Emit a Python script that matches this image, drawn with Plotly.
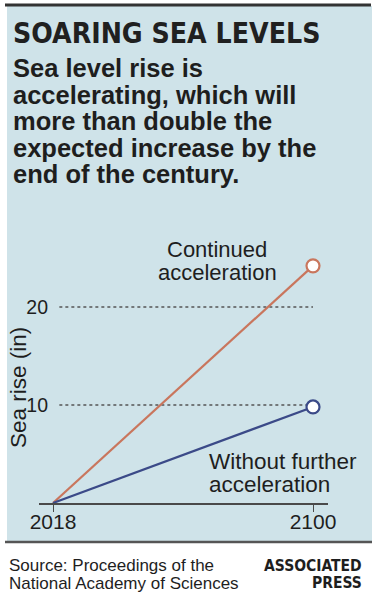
import plotly.graph_objects as go

# ---- data ----
years = [2018, 2100]
continued_accel = [0, 24.2]
no_further_accel = [0, 9.8]
y_ticks = [10, 20]
x_ticks = [2018, 2100]

title_text = "SOARING SEA LEVELS"
subtitle_lines = [
    "Sea level rise is",
    "accelerating, which will",
    "more than double the",
    "expected increase by the",
    "end of the century.",
]
label_cont = ["Continued", "acceleration"]
label_without = ["Without further", "acceleration"]
source_lines = ["Source: Proceedings of the", "National Academy of Sciences"]
credit_lines = ["ASSOCIATED", "PRESS"]
y_title = "Sea rise (in)"

# ---- layout geometry (pixels) ----
W, H = 376, 600
L, R, T, B = 39, 328, 238, 503
x_px_first, x_px_last = 53, 313
pxs_per_year = (x_px_last - x_px_first) / (years[-1] - years[0])
x_range = [years[0] - (x_px_first - L) / pxs_per_year,
           years[-1] + (R - x_px_last) / pxs_per_year]
px_per_unit = 9.8
y_range = [0, (B - T) / px_per_unit]


def px(x):
    return (x - L) / (R - L)


def py(y):
    return (B - y) / (B - T)


RED = "#c9765d"
BLUE = "#3b4a88"
PANEL = "#cfe3e9"
TXT = "#1e1e1e"
FONT = "Liberation Sans, Arial, sans-serif"
COND = "DejaVu Sans Condensed, DejaVu Sans, sans-serif"

fig = go.Figure()

for vals, col in [(continued_accel, RED), (no_further_accel, BLUE)]:
    fig.add_trace(go.Scatter(x=years, y=vals, mode="lines",
                             line=dict(color=col, width=2.2),
                             hoverinfo="skip", showlegend=False, cliponaxis=False))
    fig.add_trace(go.Scatter(x=[years[-1]], y=[vals[-1]], mode="markers",
                             marker=dict(size=13, color="white",
                                         line=dict(color=col, width=2.2)),
                             hoverinfo="skip", showlegend=False, cliponaxis=False))

shapes = [
    dict(type="rect", xref="paper", yref="paper", x0=px(7), x1=px(372),
         y0=py(541), y1=py(6), fillcolor=PANEL, line=dict(width=0), layer="below"),
    dict(type="line", xref="paper", yref="paper", x0=px(5), x1=px(371),
         y0=py(5), y1=py(5), line=dict(color="#333333", width=3)),
    dict(type="line", xref="paper", yref="paper", x0=px(5), x1=px(372),
         y0=py(542), y1=py(542), line=dict(color="#555555", width=2.5)),
]
for v in y_ticks:
    shapes.append(dict(type="line", xref="x", yref="y", x0=years[0] + 2, x1=years[-1],
                       y0=v, y1=v, line=dict(color="#555555", width=1.4, dash="dot"),
                       layer="below"))

annotations = []
annotations.append(dict(text=f"<b>{title_text}</b>", xref="paper", yref="paper",
                        x=px(11), y=py(33), xanchor="left", yanchor="middle",
                        showarrow=False, font=dict(family=COND, size=28.2, color="#202020")))
for i, line in enumerate(subtitle_lines):
    annotations.append(dict(text=f"<b>{line}</b>", xref="paper", yref="paper",
                            x=px(11), y=py(68 + i * 26.5), xanchor="left", yanchor="middle",
                            showarrow=False, font=dict(family=FONT, size=25.5, color=TXT)))
for i, line in enumerate(label_cont):
    annotations.append(dict(text=line, xref="paper", yref="paper",
                            x=px(217), y=py(249 + i * 23), xanchor="center", yanchor="middle",
                            showarrow=False, font=dict(family=FONT, size=22, color=TXT)))
for i, line in enumerate(label_without):
    annotations.append(dict(text=line, xref="paper", yref="paper",
                            x=px(207), y=py(461 + i * 23), xanchor="left", yanchor="middle",
                            showarrow=False, font=dict(family=FONT, size=22.5, color=TXT)))
annotations.append(dict(text=y_title, xref="paper", yref="paper", x=px(18), y=py(388),
                        xanchor="center", yanchor="middle", textangle=-90, showarrow=False,
                        font=dict(family=FONT, size=22.5, color=TXT)))
for i, line in enumerate(source_lines):
    annotations.append(dict(text=line, xref="paper", yref="paper",
                            x=px(7), y=py(565 + i * 18), xanchor="left", yanchor="middle",
                            showarrow=False, font=dict(family=FONT, size=17, color=TXT)))
for i, line in enumerate(credit_lines):
    annotations.append(dict(text=f"<b>{line}</b>", xref="paper", yref="paper",
                            x=px(364), y=py(566 + i * 17), xanchor="right", yanchor="middle",
                            showarrow=False, font=dict(family=COND, size=15.5, color=TXT)))

fig.update_layout(
    width=W, height=H,
    margin=dict(l=L, r=W - R, t=T, b=H - B, pad=0),
    paper_bgcolor="white", plot_bgcolor="rgba(0,0,0,0)",
    shapes=shapes, annotations=annotations,
    xaxis=dict(range=x_range, tickvals=x_ticks, ticktext=[str(t) for t in x_ticks],
               showgrid=False, zeroline=False, showline=True, linecolor="#4a4a4a",
               linewidth=2, ticks="outside", ticklen=7, tickwidth=1, tickcolor="#4a4a4a",
               ticklabelstandoff=-8,
               tickfont=dict(family=FONT, size=21, color=TXT), fixedrange=True),
    yaxis=dict(range=y_range, tickvals=y_ticks, showgrid=False, zeroline=False,
               showline=False, ticks="", ticklabelstandoff=-10,
               tickfont=dict(family=FONT, size=19.5, color=TXT), fixedrange=True),
    showlegend=False,
)

fig.write_html("out.html")
